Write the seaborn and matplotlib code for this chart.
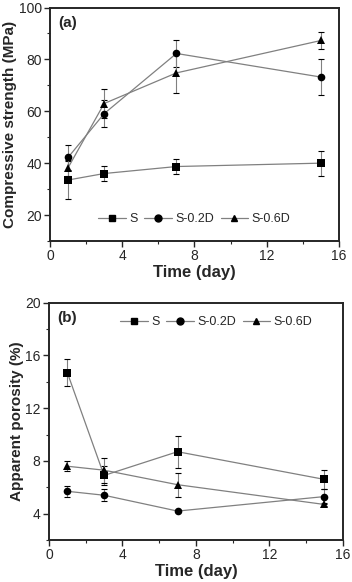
import numpy as np
import pandas as pd
import seaborn as sns
import matplotlib.pyplot as plt
from matplotlib.ticker import MultipleLocator

sns.set_style("ticks")
plt.rcParams['font.family'] = ['Liberation Sans', 'DejaVu Sans']

# curing time (day)
days = [1, 3, 7, 15]
series = ['S', 'S-0.2D', 'S-0.6D']
markers = {'S': 's', 'S-0.2D': 'o', 'S-0.6D': '^'}

# compressive strength (MPa) and error
strength_S = [33.5, 36.0, 38.7, 40.0]
strength_S_err = [7.5, 3.0, 3.0, 4.8]
strength_02D = [42.2, 59.1, 82.3, 73.2]
strength_02D_err = [4.7, 5.3, 5.2, 6.9]
strength_06D = [38.2, 63.0, 74.8, 87.3]
strength_06D_err = [3.0, 5.5, 7.7, 3.2]

# apparent porosity (%) and error
porosity_S = [14.7, 6.9, 8.7, 6.6]
porosity_S_err = [1.0, 0.7, 1.2, 0.7]
porosity_02D = [5.7, 5.4, 4.2, 5.3]
porosity_02D_err = [0.4, 0.45, 0.1, 0.55]
porosity_06D = [7.6, 7.3, 6.2, 4.7]
porosity_06D_err = [0.4, 0.95, 0.9, 0.1]


def make_frame(vals, errs):
    rows = []
    for name, v, e in zip(series, vals, errs):
        for d, y, err in zip(days, v, e):
            rows.append({'Time': d, 'value': y, 'err': err, 'Sample': name})
    return pd.DataFrame(rows)


df_a = make_frame([strength_S, strength_02D, strength_06D],
                  [strength_S_err, strength_02D_err, strength_06D_err])
df_b = make_frame([porosity_S, porosity_02D, porosity_06D],
                  [porosity_S_err, porosity_02D_err, porosity_06D_err])

fig = plt.figure(figsize=(3.52, 5.82), dpi=100)
ax1 = fig.add_axes([0.142, 0.586, 0.821, 0.401])
ax2 = fig.add_axes([0.139, 0.072, 0.835, 0.408])


def draw(ax, df, ylabel, ylim, yticks, tag, legend_loc):
    for name in series:
        sub = df[df['Sample'] == name]
        ax.errorbar(sub['Time'], sub['value'], yerr=sub['err'], fmt='none',
                    ecolor='#808080', elinewidth=0.8, capsize=2, capthick=0.8,
                    zorder=1)
    sns.lineplot(data=df, x='Time', y='value', hue='Sample', style='Sample',
                 markers=markers, dashes=False, palette=['#808080'] * 3,
                 markersize=5.5, markeredgewidth=0, linewidth=0.9,
                 ax=ax, zorder=2, legend=False)
    for line in ax.lines:
        line.set_markerfacecolor('black')
        line.set_markeredgecolor('black')
    handles = [plt.Line2D([], [], color='#808080', lw=0.9, marker=markers[n],
                          markerfacecolor='black', markeredgecolor='black',
                          markersize=5) for n in series]
    ax.legend(handles, series, ncol=3, frameon=False, fontsize=9,
              handlelength=2.2, columnspacing=0.5, handletextpad=0.3,
              **legend_loc)
    ax.set_xlim(0, 16)
    ax.set_ylim(*ylim)
    ax.set_xticks([0, 4, 8, 12, 16])
    ax.set_yticks(yticks)
    ax.xaxis.set_minor_locator(MultipleLocator(2))
    ax.yaxis.set_minor_locator(MultipleLocator((yticks[1] - yticks[0]) / 2))
    ax.tick_params(which='major', direction='out', length=4, width=1,
                   labelsize=10, pad=2, top=False, right=False)
    ax.tick_params(which='minor', direction='out', length=2.5, width=0.8,
                   top=False, right=False)
    for s in ax.spines.values():
        s.set_visible(True)
        s.set_linewidth(1.4)
    ax.set_xlabel('Time (day)', fontsize=12, fontweight='bold', labelpad=1)
    ax.set_ylabel(ylabel, fontsize=11, fontweight='bold', labelpad=1)
    ax.text(0.03, 0.965, tag, transform=ax.transAxes, fontsize=11,
            fontweight='bold', va='top', ha='left')


draw(ax1, df_a, 'Compressive strength (MPa)', (10, 100), [20, 40, 60, 80, 100],
     '(a)', dict(loc='lower center', bbox_to_anchor=(0.5, 0.02)))
draw(ax2, df_b, 'Apparent porosity (%)', (2, 20), [4, 8, 12, 16, 20],
     '(b)', dict(loc='upper center', bbox_to_anchor=(0.57, 0.99)))

fig.savefig('out.png', dpi=100)
